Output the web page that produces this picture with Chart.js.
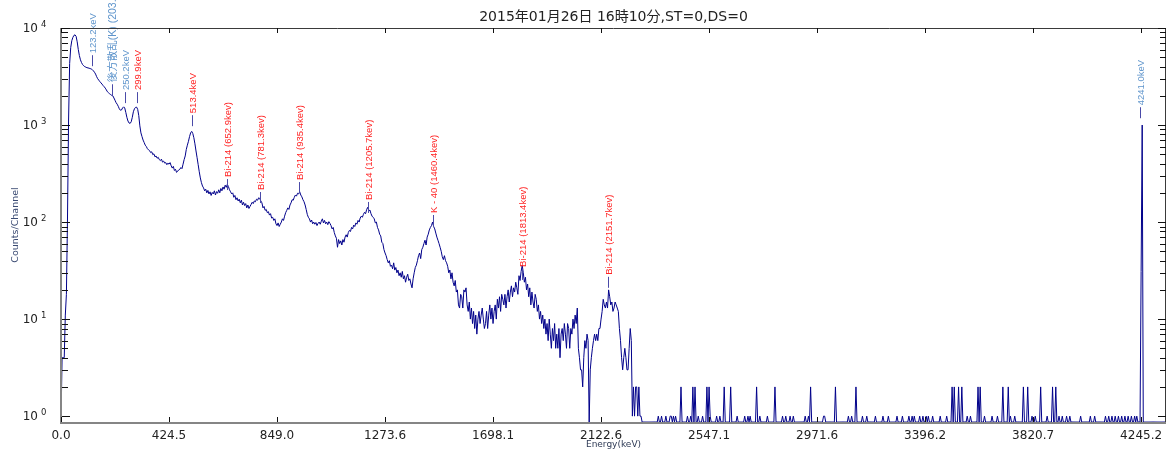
<!DOCTYPE html>
<html>
<head>
<meta charset="utf-8">
<title>Spectrum</title>
<script src="https://cdn.jsdelivr.net/npm/chart.js@4.4.1/dist/chart.umd.min.js"></script>
<style>
  html, body { margin: 0; padding: 0; background: #fff; }
  #chart { display: block; }
</style>
</head>
<body>
<canvas id="chart" width="1170" height="450"></canvas>
<script>
const titleText = "2015年01月26日 16時10分,ST=0,DS=0";

// energy calibration (keV per channel), 1024 channels
const keVPerChannel = 4.2452;
const channelCount = 1024;

// counts per channel, channels 0-199
const countsA = [
  0, 4, 4, 4, 11, 18, 105, 1100, 4300, 6300,
  7400, 8000, 8400, 8500, 8200, 7200, 6000, 5200, 4700, 4400,
  4200, 4080, 4000, 3950, 3900, 3880, 3850, 3820, 3780, 3720,
  3620, 3500, 3350, 3150, 3000, 2900, 2800, 2720, 2640, 2550,
  2480, 2400, 2300, 2200, 2150, 2100, 2060, 2020, 2000, 1900,
  1800, 1700, 1640, 1560, 1470, 1420, 1430, 1500, 1540, 1500,
  1350, 1200, 1100, 1050, 1040, 1080, 1200, 1370, 1470, 1520,
  1530, 1450, 1250, 980, 830, 760, 700, 660, 620, 600,
  570, 555, 545, 520, 530, 495, 505, 470, 480, 455,
  465, 440, 430, 445, 415, 425, 405, 410, 390, 405,
  395, 410, 380, 360, 375, 340, 350, 325, 335, 345,
  350, 365, 355, 395, 440, 480, 560, 620, 680, 760,
  830, 860, 820, 740, 640, 540, 460, 390, 330, 285,
  255, 235, 225, 210, 218, 200, 212, 195, 205, 188,
  202, 195, 210, 190, 206, 198, 215, 200, 222, 210,
  230, 218, 240, 228, 245, 232, 215, 205, 195, 200,
  180, 188, 170, 178, 165, 172, 158, 168, 150, 160,
  148, 155, 140, 150, 138, 145, 152, 160, 155, 165,
  162, 172, 168, 178, 175, 165, 158, 140, 145, 132,
  135, 125, 128, 118, 122, 110, 112, 104, 108, 96
];

// channels 200-399
const countsB = [
  92, 98, 90, 95, 100, 108, 104, 115, 125, 132,
  140, 135, 150, 158, 170, 168, 180, 190, 185, 198,
  195, 205, 190, 182, 170, 162, 150, 135, 120, 112,
  108, 100, 105, 96, 100, 95, 99, 92, 97, 100,
  95, 102, 108, 98, 104, 96, 100, 94, 101, 97,
  92, 85, 88, 78, 72, 68, 55, 66, 60, 64,
  58, 66, 62, 70, 74, 70, 78, 82, 80, 88,
  85, 93, 90, 98, 95, 104, 100, 110, 115, 112,
  120, 126, 122, 135, 142, 130, 133, 122, 115, 112,
  108, 98, 100, 88, 83, 75, 72, 62, 60, 52,
  48, 45, 41, 38, 40, 35, 36, 33, 38, 32,
  34, 30, 32, 28, 30, 27, 31, 26, 28, 24,
  27, 29, 25, 26, 23, 21, 26, 30, 34, 36,
  40, 45, 48, 42, 52, 55, 60, 65, 58, 70,
  75, 83, 88, 92, 100, 90, 85, 77, 70, 65,
  60, 55, 50, 44, 41, 45, 40, 38, 35, 30,
  32, 26, 30, 24, 22, 25, 19, 20, 14, 13,
  18, 17, 13, 20, 19, 21, 14, 12, 15, 10,
  13, 9, 12, 8, 11, 7, 10, 12, 9, 11,
  13, 10, 8, 9, 12, 8, 11, 14, 10, 13
];

// channels 400-539
const countsC = [
  9, 12, 14, 10, 16, 13, 17, 12, 18, 16,
  14, 18, 13, 17, 20, 15, 19, 22, 17, 21,
  19, 24, 21, 18, 28, 25, 31, 36, 30, 24,
  27, 20, 23, 17, 21, 14, 19, 15, 13, 18,
  16, 12, 14, 10, 12, 9, 11, 8, 10, 7,
  9, 6, 10, 7, 5, 8, 6, 9, 5, 7,
  5, 8, 4, 7, 8, 6, 9, 7, 5, 9,
  8, 5, 8, 7, 10, 8, 11, 9, 13, 5,
  4, 3, 3, 2, 4, 6, 5, 7, 6, 0,
  3, 4, 5, 6, 7, 6, 7, 6, 8, 8,
  10, 12, 16, 14, 13, 15, 13, 20, 17, 14,
  15, 12, 13, 15, 14, 13, 12, 8, 6, 4,
  3, 4, 5, 4, 3, 3, 5, 8, 6, 1,
  2, 1, 2, 2, 1, 2, 1, 1, 0, 0
];

// tail (channel 540 up): empty channels except these
const tailOnes = [553, 556, 560, 564, 565, 567, 569, 580, 583, 590, 594, 601, 607, 610,
  626, 633, 636, 638, 647, 654, 668, 671, 675, 678, 689, 692, 706, 707, 729, 732,
  742, 746, 754, 761, 766, 774, 779, 785, 788, 790, 795, 798, 801, 803, 807, 814,
  820, 839, 842, 855, 862, 867, 879, 883, 899, 902, 913, 924, 927, 931, 934, 944,
  953, 957, 967, 970, 973, 976, 979, 982, 985, 988, 991, 994, 996];
const tailTwos = [574, 585, 587, 598, 600, 614, 620, 644, 661, 694, 717, 736, 825, 827,
  831, 834, 849, 851, 872, 877, 891, 895, 907, 918, 921];
const pulserChannels = [1000, 1001];
const pulserCounts = [31, 1000];

// axis ticks
const xMax = 4343;
const xTickValues = [0, 424.52, 849.04, 1273.56, 1698.08, 2122.6, 2547.12, 2971.64, 3396.16, 3820.68, 4245.2];
const xTickLabels = ["0.0", "424.5", "849.0", "1273.6", "1698.1", "2122.6", "2547.1", "2971.6", "3396.2", "3820.7", "4245.2"];
const yFloor = 0.87;
const yMajorTicks = [1, 10, 100, 1000, 10000];
const yTickBase = "10";
const yTickExponents = ["0", "1", "2", "3", "4"];
const yMinorSteps = [2, 3, 4, 5, 6, 7, 8, 9];

// peak annotations
const peakLabels = ["123.2keV", "後方散乱(K) (203.5keV)", "250.2keV", "299.9keV", "513.4keV",
  "Bi-214 (652.9kev)", "Bi-214 (781.3kev)", "Bi-214 (935.4kev)", "Bi-214 (1205.7kev)",
  "K - 40 (1460.4kev)", "Bi-214 (1813.4kev)", "Bi-214 (2151.7kev)", "4241.0keV"];
const peakEnergies = [123.2, 201.8, 250.2, 299.9, 513.4, 652.9, 781.3, 935.4, 1205.7, 1460.4, 1813.4, 2151.7, 4241.0];
const peakLevels = [5500, 2760, 2290, 2290, 1325, 291, 214, 271, 169, 124, 34.5, 28.6, 1600];
const peakKinds = ["info", "scatter", "info", "nuclide", "nuclide", "nuclide", "nuclide", "nuclide",
  "nuclide", "nuclide", "nuclide", "nuclide", "info"];
const kindColors = { info: "#5f95cc", scatter: "#5f95cc", nuclide: "#ff2424" };
const kindFonts = {
  info: "9.5px 'Liberation Sans', 'Noto Sans CJK JP'",
  scatter: "10.5px 'Liberation Sans', 'Noto Sans CJK JP'",
  nuclide: "9.5px 'Liberation Sans', 'Noto Sans CJK JP'"
};

// build the channel series
const counts = countsA.concat(countsB, countsC);
while(counts.length < channelCount) counts.push(0);
tailOnes.forEach(c => { counts[c] = 1; });
tailTwos.forEach(c => { counts[c] = 2; });
pulserChannels.forEach((c, i) => { counts[c] = pulserCounts[i]; });

// zero counts sit on the floor of the log axis
const points = counts.map((v, ch) => ({ x: ch * keVPerChannel, y: v > 0 ? v : yFloor }));

const yTicks = [];
yMajorTicks.forEach((d, i) => {
  yTicks.push({ value: d, major: true });
  if(i < yMajorTicks.length - 1){
    yMinorSteps.forEach(m => yTicks.push({ value: m * d, major: false }));
  }
});

// frame, inward ticks on all four sides, "10^n" labels
const frameTicks = {
  id: "frameTicks",
  afterDraw(chart){
    const { ctx, chartArea: a, scales: { x, y } } = chart;
    ctx.save();
    ctx.strokeStyle = "#3a3a3a";
    ctx.lineWidth = 1;
    ctx.beginPath();
    ctx.moveTo(a.left, a.top + 0.5);
    ctx.lineTo(a.right, a.top + 0.5);
    ctx.moveTo(a.right - 0.5, a.top);
    ctx.lineTo(a.right - 0.5, a.bottom);
    ctx.stroke();

    ctx.strokeStyle = "#858585";
    ctx.lineWidth = 2;
    ctx.beginPath();
    ctx.moveTo(a.left, a.top);
    ctx.lineTo(a.left, a.bottom + 1);
    ctx.lineTo(a.right, a.bottom + 1);
    ctx.stroke();

    ctx.strokeStyle = "#111";
    ctx.lineWidth = 1;
    ctx.beginPath();
    x.ticks.forEach(t => {
      const px = Math.round(x.getPixelForValue(t.value)) + 0.5;
      ctx.moveTo(px, a.bottom);
      ctx.lineTo(px, a.bottom - 5);
      ctx.moveTo(px, a.top);
      ctx.lineTo(px, a.top + 5);
    });
    y.ticks.forEach(t => {
      const py = Math.round(y.getPixelForValue(t.value)) + 0.5;
      const len = t.major ? 9 : 7;
      ctx.moveTo(a.left + 1, py);
      ctx.lineTo(a.left + len, py);
      ctx.moveTo(a.right, py);
      ctx.lineTo(a.right - len + 1, py);
    });
    ctx.stroke();

    ctx.fillStyle = "#222";
    ctx.textBaseline = "middle";
    yMajorTicks.forEach((v, i) => {
      const py = y.getPixelForValue(v);
      ctx.font = "12px 'DejaVu Sans', Verdana, sans-serif";
      ctx.textAlign = "right";
      ctx.fillText(yTickBase, a.left - 23, py + 1);
      ctx.font = "8.5px 'DejaVu Sans', Verdana, sans-serif";
      ctx.textAlign = "left";
      ctx.fillText(yTickExponents[i], a.left - 20, py - 3);
    });
    ctx.restore();
  }
};

// vertical peak labels with a short marker line
const peakMarks = {
  id: "peakMarks",
  afterDatasetsDraw(chart){
    const { ctx, scales: { x, y } } = chart;
    ctx.save();
    peakEnergies.forEach((e, i) => {
      const px = Math.round(x.getPixelForValue(e)) + 0.5;
      const ty = y.getPixelForValue(peakLevels[i]);
      ctx.strokeStyle = "#4a4aa8";
      ctx.lineWidth = 1;
      ctx.beginPath();
      ctx.moveTo(px, ty + 2);
      ctx.lineTo(px, ty + 13);
      ctx.stroke();

      ctx.save();
      ctx.translate(px + 1, ty);
      ctx.rotate(-Math.PI / 2);
      ctx.font = kindFonts[peakKinds[i]];
      ctx.fillStyle = kindColors[peakKinds[i]];
      ctx.textAlign = "left";
      ctx.textBaseline = "middle";
      ctx.fillText(peakLabels[i], 0, 0);
      ctx.restore();
    });
    ctx.restore();
  }
};

const tickFont = { family: "'DejaVu Sans', Verdana, sans-serif", size: 12 };

new Chart(document.getElementById("chart"), {
  type: "line",
  data: {
    datasets: [{
      data: points,
      borderColor: "#00008a",
      borderWidth: 1,
      pointRadius: 0,
      tension: 0,
      fill: false
    }]
  },
  options: {
    responsive: false,
    animation: false,
    devicePixelRatio: 1,
    layout: { padding: { left: 0, right: 4, top: 0, bottom: 0 } },
    plugins: {
      legend: { display: false },
      tooltip: { enabled: false },
      title: {
        display: true,
        text: titleText,
        fullSize: false,
        color: "#222",
        font: { family: "'DejaVu Sans', 'Noto Sans CJK JP'", size: 14, weight: "normal" },
        padding: { top: 9, bottom: 2.2 }
      }
    },
    scales: {
      x: {
        type: "linear",
        min: 0,
        max: xMax,
        grid: { display: false, drawTicks: false },
        border: { display: false },
        afterBuildTicks: s => { s.ticks = xTickValues.map(v => ({ value: v })); },
        afterFit: s => { s.height = 28; },
        ticks: {
          autoSkip: false,
          maxRotation: 0,
          padding: 7,
          color: "#222",
          font: tickFont,
          callback: (v, i) => xTickLabels[i]
        },
        title: {
          display: true,
          text: "Energy(keV)",
          color: "#2e3a55",
          font: { family: "'DejaVu Sans', sans-serif", size: 9 },
          padding: { top: 0, bottom: 0 }
        }
      },
      y: {
        type: "logarithmic",
        min: yFloor,
        max: 10000,
        grid: { display: false, drawTicks: false },
        border: { display: false },
        afterBuildTicks: s => { s.ticks = yTicks.map(t => ({ value: t.value, major: t.major })); },
        afterFit: s => { s.width = 61; },
        ticks: {
          autoSkip: false,
          padding: 15,
          font: tickFont,
          callback: () => ""
        },
        title: {
          display: true,
          text: "Counts/Channel",
          color: "#3c4c74",
          font: { family: "'DejaVu Sans', sans-serif", size: 9.5 },
          padding: { top: 10, bottom: 0 }
        }
      }
    }
  },
  plugins: [frameTicks, peakMarks]
});
</script>
</body>
</html>
